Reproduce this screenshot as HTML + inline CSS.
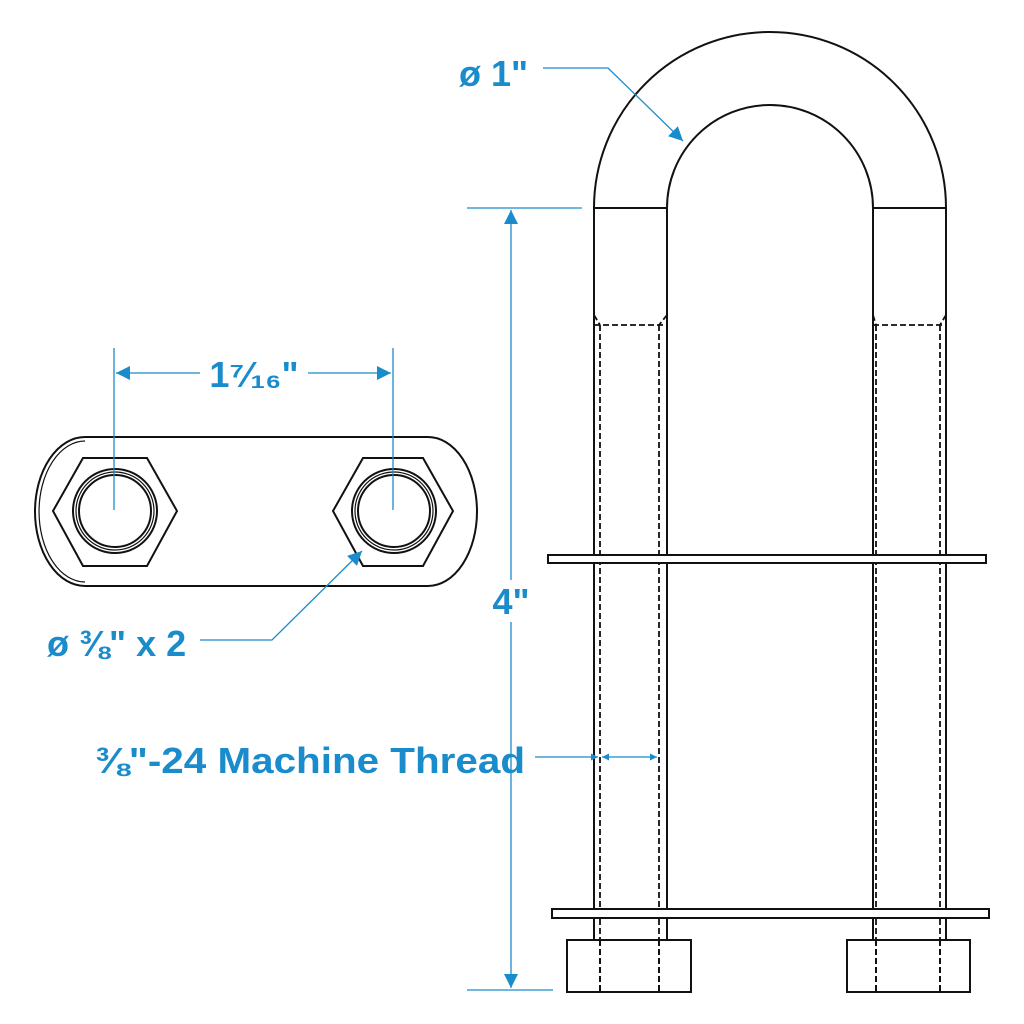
<!DOCTYPE html>
<html><head><meta charset="utf-8"><style>html,body{margin:0;padding:0;background:#fff}svg{display:block}</style></head>
<body>
<svg width="1024" height="1024" viewBox="0 0 1024 1024" xmlns="http://www.w3.org/2000/svg">
<defs>
<marker id="a" viewBox="0 0 10 10" refX="10" refY="5" markerWidth="7" markerHeight="7" orient="auto-start-reverse" markerUnits="userSpaceOnUse"><path d="M0,0 L10,5 L0,10 z" fill="#1a8ccc"/></marker>
<marker id="b" viewBox="0 0 10 10" refX="10" refY="5" markerWidth="18" markerHeight="14" orient="auto-start-reverse" markerUnits="userSpaceOnUse"><path d="M0,0 L10,5 L0,10 z" fill="#1a8ccc"/></marker>
</defs>
<g fill="none" stroke="#111" stroke-width="2">
<!-- plate -->
<path d="M85,437 L428,437 A49,74.5 0 0 1 428,586 L85,586 A50,74.5 0 0 1 85,437 z"/>
<path d="M85,441 A46,70.5 0 0 0 85,582" stroke-width="1.2"/>
<polygon points="53,511 83,458 147,458 177,511 147,566 83,566"/>
<polygon points="333,511 363,458 423,458 453,511 423,566 363,566"/>
<circle cx="115" cy="511" r="42"/><circle cx="115" cy="511" r="39" stroke-width="1.2"/><circle cx="115" cy="511" r="36"/>
<circle cx="394" cy="511" r="42"/><circle cx="394" cy="511" r="39" stroke-width="1.2"/><circle cx="394" cy="511" r="36"/>
<!-- U bolt -->
<path d="M594,208 A176,176 0 0 1 946,208"/>
<path d="M667,208 A103,103 0 0 1 873,208"/>
<line x1="594" y1="208" x2="667" y2="208"/><line x1="873" y1="208" x2="946" y2="208"/>
<line x1="594" y1="208" x2="594" y2="940"/><line x1="667" y1="208" x2="667" y2="940"/>
<line x1="873" y1="208" x2="873" y2="940"/><line x1="946" y1="208" x2="946" y2="940"/>
<g stroke-dasharray="6,3" stroke-width="1.8">
<line x1="594" y1="325" x2="667" y2="325"/><line x1="873" y1="325" x2="946" y2="325"/>
<line x1="600" y1="325" x2="600" y2="992"/><line x1="659" y1="325" x2="659" y2="992"/>
<line x1="876" y1="325" x2="876" y2="992"/><line x1="940" y1="325" x2="940" y2="992"/>
<line x1="594" y1="315" x2="600" y2="325"/><line x1="667" y1="315" x2="659" y2="325"/>
<line x1="873" y1="315" x2="876" y2="325"/><line x1="946" y1="315" x2="940" y2="325"/>
</g>
<rect x="548" y="555" width="438" height="8" fill="#fff"/>
<rect x="552" y="909" width="437" height="9" fill="#fff"/>
<rect x="567" y="940" width="124" height="52" fill="#fff"/>
<rect x="847" y="940" width="123" height="52" fill="#fff"/>
<g stroke-dasharray="6,3" stroke-width="2"><line x1="600" y1="940" x2="600" y2="992"/><line x1="659" y1="940" x2="659" y2="992"/><line x1="876" y1="940" x2="876" y2="992"/><line x1="940" y1="940" x2="940" y2="992"/></g>
</g>
<g stroke="#1a8ccc" stroke-width="1.3" fill="none">
<line x1="114" y1="348" x2="114" y2="510"/><line x1="393" y1="348" x2="393" y2="510"/>
<line x1="116" y1="373" x2="200" y2="373" marker-start="url(#b)"/><line x1="308" y1="373" x2="391" y2="373" marker-end="url(#b)"/>
<line x1="467" y1="208" x2="582" y2="208"/><line x1="467" y1="990" x2="553" y2="990"/>
<line x1="511" y1="210" x2="511" y2="580" marker-start="url(#b)"/><line x1="511" y1="622" x2="511" y2="988" marker-end="url(#b)"/>
<polyline points="543,68 608,68 683,141" marker-end="url(#b)"/>
<polyline points="200,640 272,640 362,551" marker-end="url(#b)"/>
<line x1="535" y1="757" x2="598" y2="757" marker-end="url(#a)"/>
<line x1="602" y1="757" x2="657" y2="757" marker-start="url(#a)" marker-end="url(#a)"/>
</g>
<g fill="#1a8ccc" font-family="'Liberation Sans', 'DejaVu Sans', sans-serif" font-weight="bold" font-size="36">
<text x="459" y="86">ø 1"</text>
<text x="254" y="387" text-anchor="middle">1⁷⁄₁₆"</text>
<text x="511" y="614" text-anchor="middle">4"</text>
<text x="47" y="656">ø ⅜" x 2</text>
<text x="95" y="773" textLength="430" lengthAdjust="spacingAndGlyphs">⅜"-24 Machine Thread</text>
</g>
</svg>
</body></html>
